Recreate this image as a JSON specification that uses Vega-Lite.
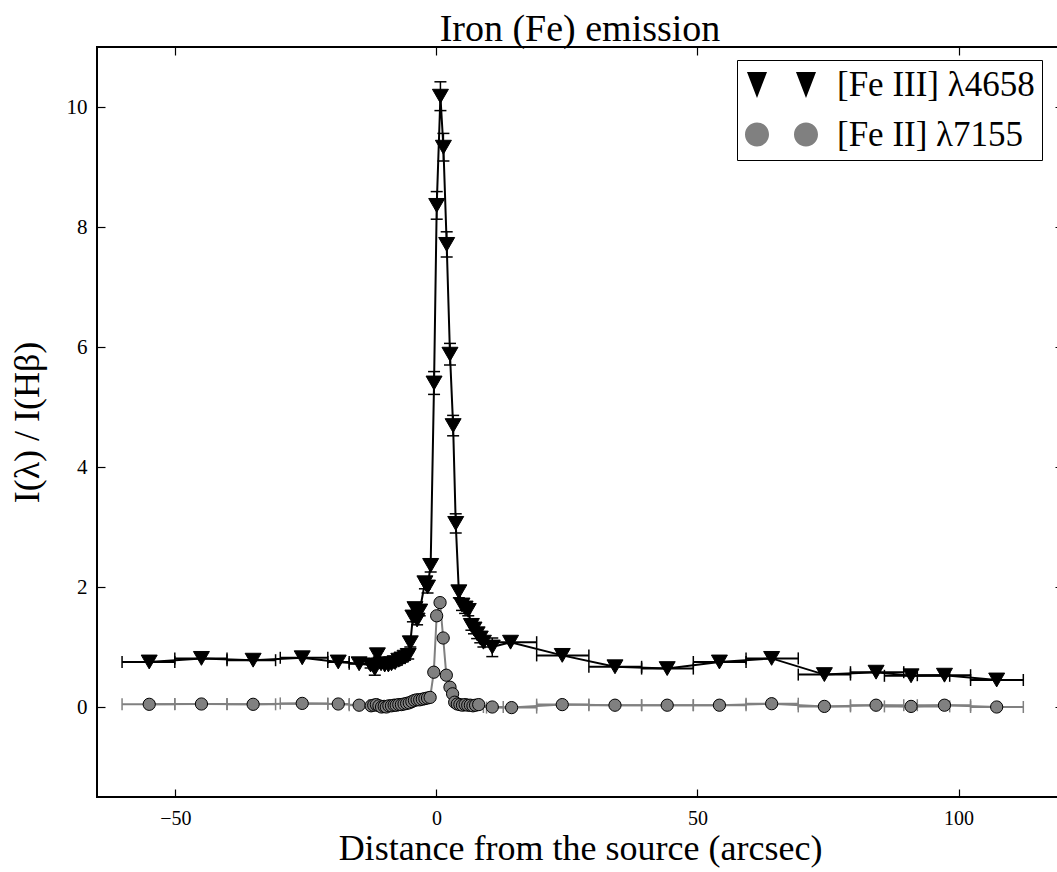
{
  "$schema": "https://vega.github.io/schema/vega-lite/v6.json",
  "width": 966,
  "height": 750,
  "autosize": {"type": "none"},
  "padding": {"left": 97, "top": 47, "right": -6, "bottom": 75},
  "background": "white",
  "title": {"text": "Iron (Fe) emission", "font": "Liberation Serif", "fontSize": 38, "fontWeight": "normal", "color": "black", "offset": -3},
  "config": {
    "font": "Liberation Serif",
    "view": {"stroke": "black", "strokeWidth": 2},
    "axis": {"grid": false, "domain": false, "tickColor": "black", "tickSize": -8, "tickWidth": 1.2, "labelFont": "Liberation Serif", "labelFontSize": 21, "labelColor": "black", "titleFont": "Liberation Serif", "titleFontSize": 36, "titleFontWeight": "normal", "titleColor": "black"},
    "legend": {"labelFont": "Liberation Serif"}
  },
  "resolve": {"axis": {"x": "independent", "y": "independent"}},
  "data": {"values": [
    {"s":"[Fe III] λ4658","x":-55.0,"y":0.75,"xlo":-60.2,"xhi":-50.1},
    {"s":"[Fe III] λ4658","x":-45.0,"y":0.81,"xlo":-50.1,"xhi":-40.1},
    {"s":"[Fe III] λ4658","x":-35.1,"y":0.78,"xlo":-40.1,"xhi":-30.8},
    {"s":"[Fe III] λ4658","x":-25.7,"y":0.82,"xlo":-29.9,"xhi":-20.8},
    {"s":"[Fe III] λ4658","x":-18.8,"y":0.75,"xlo":-20.8,"xhi":-16.7},
    {"s":"[Fe III] λ4658","x":-14.8,"y":0.72,"xlo":-16.7,"xhi":-12.9},
    {"s":"[Fe III] λ4658","x":-12.6,"y":0.70,"ylo":0.65,"yhi":0.75},
    {"s":"[Fe III] λ4658","x":-11.8,"y":0.64,"ylo":0.53,"yhi":0.75},
    {"s":"[Fe III] λ4658","x":-11.3,"y":0.87,"ylo":0.81,"yhi":0.93},
    {"s":"[Fe III] λ4658","x":-10.6,"y":0.72,"ylo":0.67,"yhi":0.77},
    {"s":"[Fe III] λ4658","x":-9.9,"y":0.70,"ylo":0.65,"yhi":0.75},
    {"s":"[Fe III] λ4658","x":-9.2,"y":0.70,"ylo":0.65,"yhi":0.75},
    {"s":"[Fe III] λ4658","x":-8.6,"y":0.72,"ylo":0.67,"yhi":0.77},
    {"s":"[Fe III] λ4658","x":-7.9,"y":0.74,"ylo":0.69,"yhi":0.79},
    {"s":"[Fe III] λ4658","x":-7.2,"y":0.78,"ylo":0.73,"yhi":0.83},
    {"s":"[Fe III] λ4658","x":-6.6,"y":0.80,"ylo":0.75,"yhi":0.85},
    {"s":"[Fe III] λ4658","x":-6.0,"y":0.83,"ylo":0.78,"yhi":0.88},
    {"s":"[Fe III] λ4658","x":-5.4,"y":0.86,"ylo":0.80,"yhi":0.92},
    {"s":"[Fe III] λ4658","x":-5.0,"y":1.07,"ylo":1.00,"yhi":1.14},
    {"s":"[Fe III] λ4658","x":-4.5,"y":1.50,"ylo":1.42,"yhi":1.58},
    {"s":"[Fe III] λ4658","x":-4.1,"y":1.64,"ylo":1.56,"yhi":1.72},
    {"s":"[Fe III] λ4658","x":-3.7,"y":1.45,"ylo":1.37,"yhi":1.53},
    {"s":"[Fe III] λ4658","x":-3.2,"y":1.60,"ylo":1.52,"yhi":1.68},
    {"s":"[Fe III] λ4658","x":-2.2,"y":2.07,"ylo":1.97,"yhi":2.17},
    {"s":"[Fe III] λ4658","x":-1.7,"y":2.00,"ylo":1.90,"yhi":2.10},
    {"s":"[Fe III] λ4658","x":-1.1,"y":2.36,"ylo":2.25,"yhi":2.47},
    {"s":"[Fe III] λ4658","x":-0.45,"y":5.40,"ylo":5.21,"yhi":5.59},
    {"s":"[Fe III] λ4658","x":0.06,"y":8.36,"ylo":8.13,"yhi":8.59},
    {"s":"[Fe III] λ4658","x":0.77,"y":10.18,"ylo":9.94,"yhi":10.42},
    {"s":"[Fe III] λ4658","x":1.34,"y":9.33,"ylo":9.10,"yhi":9.56},
    {"s":"[Fe III] λ4658","x":1.97,"y":7.71,"ylo":7.50,"yhi":7.92},
    {"s":"[Fe III] λ4658","x":2.6,"y":5.88,"ylo":5.70,"yhi":6.06},
    {"s":"[Fe III] λ4658","x":3.2,"y":4.69,"ylo":4.52,"yhi":4.86},
    {"s":"[Fe III] λ4658","x":3.7,"y":3.06,"ylo":2.90,"yhi":3.22},
    {"s":"[Fe III] λ4658","x":4.3,"y":1.92,"ylo":1.82,"yhi":2.02},
    {"s":"[Fe III] λ4658","x":4.9,"y":1.70,"ylo":1.61,"yhi":1.79},
    {"s":"[Fe III] λ4658","x":5.5,"y":1.65,"ylo":1.56,"yhi":1.74},
    {"s":"[Fe III] λ4658","x":6.1,"y":1.61,"ylo":1.52,"yhi":1.70},
    {"s":"[Fe III] λ4658","x":6.7,"y":1.36,"ylo":1.28,"yhi":1.44},
    {"s":"[Fe III] λ4658","x":7.2,"y":1.30,"ylo":1.22,"yhi":1.38},
    {"s":"[Fe III] λ4658","x":7.8,"y":1.22,"ylo":1.14,"yhi":1.30},
    {"s":"[Fe III] λ4658","x":8.4,"y":1.15,"ylo":1.07,"yhi":1.23},
    {"s":"[Fe III] λ4658","x":9.0,"y":1.08,"ylo":1.00,"yhi":1.16},
    {"s":"[Fe III] λ4658","x":10.7,"y":1.00,"ylo":0.84,"yhi":1.15},
    {"s":"[Fe III] λ4658","x":14.2,"y":1.08,"xlo":9.3,"xhi":19.2},
    {"s":"[Fe III] λ4658","x":24.1,"y":0.86,"xlo":19.2,"xhi":29.2},
    {"s":"[Fe III] λ4658","x":34.2,"y":0.67,"xlo":29.2,"xhi":39.3},
    {"s":"[Fe III] λ4658","x":44.2,"y":0.64,"xlo":39.3,"xhi":49.2},
    {"s":"[Fe III] λ4658","x":54.2,"y":0.75,"xlo":49.2,"xhi":59.3},
    {"s":"[Fe III] λ4658","x":64.2,"y":0.81,"xlo":59.3,"xhi":69.3},
    {"s":"[Fe III] λ4658","x":74.3,"y":0.54,"xlo":69.3,"xhi":79.3},
    {"s":"[Fe III] λ4658","x":84.2,"y":0.58,"xlo":79.3,"xhi":89.5},
    {"s":"[Fe III] λ4658","x":90.9,"y":0.52,"xlo":85.8,"xhi":98.3},
    {"s":"[Fe III] λ4658","x":97.3,"y":0.53,"xlo":92.1,"xhi":102.3},
    {"s":"[Fe III] λ4658","x":107.3,"y":0.45,"xlo":102.3,"xhi":112.4},

    {"s":"[Fe II] λ7155","x":-55.0,"y":0.045,"xlo":-60.2,"xhi":-50.1},
    {"s":"[Fe II] λ7155","x":-45.0,"y":0.05,"xlo":-50.1,"xhi":-40.1},
    {"s":"[Fe II] λ7155","x":-35.1,"y":0.045,"xlo":-40.1,"xhi":-30.8},
    {"s":"[Fe II] λ7155","x":-25.7,"y":0.06,"xlo":-29.9,"xhi":-20.8},
    {"s":"[Fe II] λ7155","x":-18.8,"y":0.05,"xlo":-20.8,"xhi":-16.7},
    {"s":"[Fe II] λ7155","x":-14.8,"y":0.03,"xlo":-16.7,"xhi":-12.9},
    {"s":"[Fe II] λ7155","x":-12.5,"y":0.02},
    {"s":"[Fe II] λ7155","x":-12.0,"y":0.03},
    {"s":"[Fe II] λ7155","x":-11.5,"y":0.04},
    {"s":"[Fe II] λ7155","x":-11.0,"y":0.02},
    {"s":"[Fe II] λ7155","x":-10.5,"y":0.0},
    {"s":"[Fe II] λ7155","x":-10.0,"y":0.01},
    {"s":"[Fe II] λ7155","x":-9.6,"y":0.0},
    {"s":"[Fe II] λ7155","x":-9.1,"y":0.02},
    {"s":"[Fe II] λ7155","x":-8.6,"y":0.02},
    {"s":"[Fe II] λ7155","x":-8.1,"y":0.03},
    {"s":"[Fe II] λ7155","x":-7.7,"y":0.03},
    {"s":"[Fe II] λ7155","x":-7.2,"y":0.04},
    {"s":"[Fe II] λ7155","x":-6.7,"y":0.04},
    {"s":"[Fe II] λ7155","x":-6.2,"y":0.05},
    {"s":"[Fe II] λ7155","x":-5.7,"y":0.06},
    {"s":"[Fe II] λ7155","x":-5.2,"y":0.07},
    {"s":"[Fe II] λ7155","x":-4.7,"y":0.09},
    {"s":"[Fe II] λ7155","x":-4.2,"y":0.11},
    {"s":"[Fe II] λ7155","x":-3.7,"y":0.12},
    {"s":"[Fe II] λ7155","x":-3.2,"y":0.12},
    {"s":"[Fe II] λ7155","x":-2.7,"y":0.13},
    {"s":"[Fe II] λ7155","x":-2.2,"y":0.14},
    {"s":"[Fe II] λ7155","x":-1.7,"y":0.15},
    {"s":"[Fe II] λ7155","x":-1.2,"y":0.16},
    {"s":"[Fe II] λ7155","x":-0.5,"y":0.58},
    {"s":"[Fe II] λ7155","x":0.05,"y":1.52},
    {"s":"[Fe II] λ7155","x":0.7,"y":1.74},
    {"s":"[Fe II] λ7155","x":1.3,"y":1.15},
    {"s":"[Fe II] λ7155","x":1.9,"y":0.53},
    {"s":"[Fe II] λ7155","x":2.6,"y":0.33},
    {"s":"[Fe II] λ7155","x":3.1,"y":0.22},
    {"s":"[Fe II] λ7155","x":3.5,"y":0.08},
    {"s":"[Fe II] λ7155","x":4.0,"y":0.05},
    {"s":"[Fe II] λ7155","x":4.5,"y":0.04},
    {"s":"[Fe II] λ7155","x":5.0,"y":0.03},
    {"s":"[Fe II] λ7155","x":5.5,"y":0.04},
    {"s":"[Fe II] λ7155","x":6.0,"y":0.03},
    {"s":"[Fe II] λ7155","x":6.5,"y":0.03},
    {"s":"[Fe II] λ7155","x":7.0,"y":0.02},
    {"s":"[Fe II] λ7155","x":7.5,"y":0.03},
    {"s":"[Fe II] λ7155","x":8.1,"y":0.04},
    {"s":"[Fe II] λ7155","x":10.7,"y":0.0,"xlo":9.0,"xhi":12.8},
    {"s":"[Fe II] λ7155","x":14.4,"y":-0.01,"xlo":9.6,"xhi":19.2},
    {"s":"[Fe II] λ7155","x":24.1,"y":0.04,"xlo":19.2,"xhi":29.2},
    {"s":"[Fe II] λ7155","x":34.2,"y":0.03,"xlo":29.2,"xhi":39.3},
    {"s":"[Fe II] λ7155","x":44.2,"y":0.03,"xlo":39.3,"xhi":49.2},
    {"s":"[Fe II] λ7155","x":54.2,"y":0.03,"xlo":49.2,"xhi":59.3},
    {"s":"[Fe II] λ7155","x":64.2,"y":0.055,"xlo":59.3,"xhi":69.3},
    {"s":"[Fe II] λ7155","x":74.3,"y":0.01,"xlo":69.3,"xhi":79.3},
    {"s":"[Fe II] λ7155","x":84.2,"y":0.03,"xlo":79.3,"xhi":89.5},
    {"s":"[Fe II] λ7155","x":90.9,"y":0.01,"xlo":85.8,"xhi":98.3},
    {"s":"[Fe II] λ7155","x":97.3,"y":0.03,"xlo":92.1,"xhi":102.3},
    {"s":"[Fe II] λ7155","x":107.3,"y":0.0,"xlo":102.3,"xhi":112.4}
  ]},
  "layer": [
    {
      "transform": [{"filter": {"and": [{"field": "s", "equal": "[Fe III] λ4658"}, {"field": "xlo", "valid": true}]}}],
      "mark": {"type": "rule", "color": "black", "strokeWidth": 2},
      "encoding": {
        "x": {"field": "xlo", "type": "quantitative", "scale": {"domain": [-65, 120], "nice": false, "zero": false},
              "axis": {"orient": "bottom", "values": [-50, 0, 50, 100], "title": "Distance from the source (arcsec)", "labelPadding": 19, "labelFontSize": 20, "titlePadding": 3}},
        "x2": {"field": "xhi"},
        "y": {"field": "y", "type": "quantitative", "scale": {"domain": [-1.5, 11], "nice": false, "zero": false},
              "axis": {"orient": "left", "values": [0, 2, 4, 6, 8, 10], "title": "I(λ) / I(Hβ)", "labelPadding": 18, "titlePadding": 20}}
      }
    },
    {
      "transform": [{"filter": {"and": [{"field": "s", "equal": "[Fe III] λ4658"}, {"field": "xlo", "valid": true}]}}, {"fold": ["xlo", "xhi"], "as": ["k", "xv"]}],
      "mark": {"type": "tick", "orient": "vertical", "color": "black", "size": 12, "thickness": 1.5, "opacity": 1},
      "encoding": {
        "x": {"field": "xv", "type": "quantitative", "scale": {"domain": [-65, 120], "nice": false, "zero": false}, "axis": null},
        "y": {"field": "y", "type": "quantitative", "scale": {"domain": [-1.5, 11], "nice": false, "zero": false}, "axis": null}
      }
    },
    {
      "transform": [{"filter": {"and": [{"field": "s", "equal": "[Fe III] λ4658"}, {"field": "ylo", "valid": true}]}}],
      "mark": {"type": "rule", "color": "black", "strokeWidth": 1.5},
      "encoding": {
        "x": {"field": "x", "type": "quantitative", "scale": {"domain": [-65, 120], "nice": false, "zero": false}, "axis": null},
        "y": {"field": "ylo", "type": "quantitative", "scale": {"domain": [-1.5, 11], "nice": false, "zero": false}, "axis": null},
        "y2": {"field": "yhi"}
      }
    },
    {
      "transform": [{"filter": {"and": [{"field": "s", "equal": "[Fe III] λ4658"}, {"field": "ylo", "valid": true}]}}, {"fold": ["ylo", "yhi"], "as": ["k", "yv"]}],
      "mark": {"type": "tick", "orient": "horizontal", "color": "black", "size": 12, "thickness": 1.5, "opacity": 1},
      "encoding": {
        "x": {"field": "x", "type": "quantitative", "scale": {"domain": [-65, 120], "nice": false, "zero": false}, "axis": null},
        "y": {"field": "yv", "type": "quantitative", "scale": {"domain": [-1.5, 11], "nice": false, "zero": false}, "axis": null}
      }
    },
    {
      "transform": [{"filter": {"field": "s", "equal": "[Fe III] λ4658"}}],
      "mark": {"type": "line", "color": "black", "strokeWidth": 2},
      "encoding": {
        "x": {"field": "x", "type": "quantitative", "scale": {"domain": [-65, 120], "nice": false, "zero": false}, "axis": null},
        "y": {"field": "y", "type": "quantitative", "scale": {"domain": [-1.5, 11], "nice": false, "zero": false}, "axis": null}
      }
    },
    {
      "transform": [{"filter": {"field": "s", "equal": "[Fe III] λ4658"}}],
      "mark": {"type": "point", "shape": "triangle-down", "filled": true, "fill": "black", "size": 256, "stroke": "black", "strokeWidth": 1, "opacity": 1},
      "encoding": {
        "x": {"field": "x", "type": "quantitative", "scale": {"domain": [-65, 120], "nice": false, "zero": false},
              "axis": {"orient": "top", "values": [-50, 0, 50, 100], "labels": false, "title": null}},
        "y": {"field": "y", "type": "quantitative", "scale": {"domain": [-1.5, 11], "nice": false, "zero": false},
              "axis": {"orient": "right", "values": [0, 2, 4, 6, 8, 10], "labels": false, "title": null}}
      }
    },
    {
      "transform": [{"filter": {"and": [{"field": "s", "equal": "[Fe II] λ7155"}, {"field": "xlo", "valid": true}]}}],
      "mark": {"type": "rule", "color": "#808080", "strokeWidth": 2},
      "encoding": {
        "x": {"field": "xlo", "type": "quantitative", "scale": {"domain": [-65, 120], "nice": false, "zero": false}, "axis": null},
        "x2": {"field": "xhi"},
        "y": {"field": "y", "type": "quantitative", "scale": {"domain": [-1.5, 11], "nice": false, "zero": false}, "axis": null}
      }
    },
    {
      "transform": [{"filter": {"and": [{"field": "s", "equal": "[Fe II] λ7155"}, {"field": "xlo", "valid": true}]}}, {"fold": ["xlo", "xhi"], "as": ["k", "xv"]}],
      "mark": {"type": "tick", "orient": "vertical", "color": "#808080", "size": 12, "thickness": 1.5, "opacity": 1},
      "encoding": {
        "x": {"field": "xv", "type": "quantitative", "scale": {"domain": [-65, 120], "nice": false, "zero": false}, "axis": null},
        "y": {"field": "y", "type": "quantitative", "scale": {"domain": [-1.5, 11], "nice": false, "zero": false}, "axis": null}
      }
    },
    {
      "transform": [{"filter": {"field": "s", "equal": "[Fe II] λ7155"}}],
      "mark": {"type": "line", "color": "#808080", "strokeWidth": 2},
      "encoding": {
        "x": {"field": "x", "type": "quantitative", "scale": {"domain": [-65, 120], "nice": false, "zero": false}, "axis": null},
        "y": {"field": "y", "type": "quantitative", "scale": {"domain": [-1.5, 11], "nice": false, "zero": false}, "axis": null}
      }
    },
    {
      "transform": [{"filter": {"field": "s", "equal": "[Fe II] λ7155"}}],
      "mark": {"type": "point", "shape": "circle", "filled": true, "fill": "#808080", "size": 150, "stroke": "black", "strokeWidth": 1, "opacity": 1},
      "encoding": {
        "x": {"field": "x", "type": "quantitative", "scale": {"domain": [-65, 120], "nice": false, "zero": false}, "axis": null},
        "y": {"field": "y", "type": "quantitative", "scale": {"domain": [-1.5, 11], "nice": false, "zero": false}, "axis": null}
      }
    },
    {
      "mark": {"type": "point", "filled": true, "size": 0, "stroke": "black", "strokeWidth": 1.3, "opacity": 1},
      "encoding": {
        "x": {"field": "x", "type": "quantitative", "scale": {"domain": [-65, 120], "nice": false, "zero": false}, "axis": null},
        "y": {"field": "y", "type": "quantitative", "scale": {"domain": [-1.5, 11], "nice": false, "zero": false}, "axis": null},
        "shape": {"field": "s", "type": "nominal",
                  "scale": {"domain": ["[Fe III] λ4658", "[Fe II] λ7155"],
                            "range": ["M-2.465,-0.9L-1.035,-0.9L-1.75,0.96ZM1.035,-0.9L2.465,-0.9L1.75,0.96ZM-1.035,-0.61L1.035,-0.61",
                                      "M-2.607,0A0.857,0.857,0,1,0,-0.893,0A0.857,0.857,0,1,0,-2.607,0ZM0.893,0A0.857,0.857,0,1,0,2.607,0A0.857,0.857,0,1,0,0.893,0ZM-0.893,0L0.893,0"]},
                  "legend": {"title": null, "orient": "none", "legendX": 640, "legendY": 13, "padding": 7, "labelFontSize": 35, "labelLimit": 500, "labelColor": "black", "labelOffset": 38, "symbolOffset": 20, "rowPadding": 14, "symbolSize": 784, "symbolStrokeColor": "black", "symbolStrokeWidth": 1.3, "strokeColor": "black", "fillColor": "white",
                             "encode": {
                               "symbols": {
                                 "stroke": {"value": "black"},
                                 "strokeWidth": {"value": 1.3},
                                 "size": {"value": 784},
                                 "opacity": {"value": 1}
                               }
                             }}},
        "fill": {"field": "s", "type": "nominal", "scale": {"domain": ["[Fe III] λ4658", "[Fe II] λ7155"], "range": ["black", "#808080"]}, "legend": null}
      }
    }
  ]
}
